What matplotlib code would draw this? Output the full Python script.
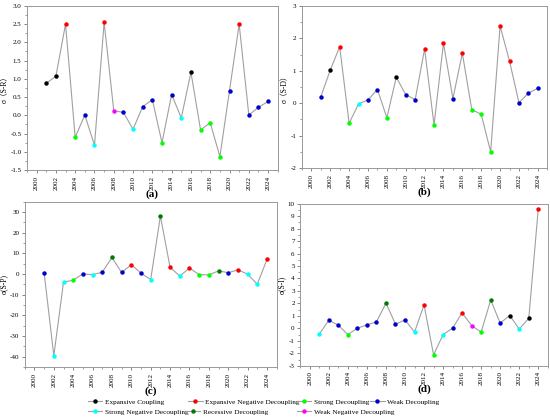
import numpy as np
import matplotlib
matplotlib.use("Agg")
import matplotlib.pyplot as plt
from matplotlib.lines import Line2D
from matplotlib.ticker import MultipleLocator, FormatStrFormatter

plt.rcParams['font.family'] = ['Liberation Serif', 'Noto Sans CJK SC', 'DejaVu Sans']
plt.rcParams['axes.unicode_minus'] = False

years = list(range(2001, 2025))

# decoupling states: EC, END, SD, WD, SND, RD, WND
state_names = {
    "EC": "Expansive Coupling",
    "END": "Expansive Negative Decoupling",
    "SD": "Strong Decoupling",
    "WD": "Weak Decoupling",
    "SND": "Strong Negative Decoupling",
    "RD": "Recessive Decoupling",
    "WND": "Weak Negative Decoupling",
}
state_colors = {
    "EC": "#000000",
    "END": "#ff0000",
    "SD": "#00ff00",
    "WD": "#0000cc",
    "SND": "#00ffff",
    "RD": "#007a00",
    "WND": "#ff00ff",
}

sr_values = [0.88, 1.07, 2.50, -0.60, 0.01, -0.82, 2.55, 0.13, 0.08, -0.38, 0.24, 0.43,
             -0.75, 0.57, -0.07, 1.18, -0.40, -0.20, -1.13, 0.68, 2.50, 0.01, 0.22, 0.38]
sr_states = ["EC", "EC", "END", "SD", "WD", "SND", "END", "WND", "WD", "SND", "WD", "WD",
             "SD", "WD", "SND", "EC", "SD", "SD", "SD", "WD", "END", "WD", "WD", "WD"]

sd_values = [0.20, 1.02, 1.74, -0.62, -0.02, 0.10, 0.42, -0.45, 0.80, 0.26, 0.11, 1.67,
             -0.67, 1.85, 0.14, 1.54, -0.20, -0.34, -1.50, 2.38, 1.30, 0.01, 0.31, 0.46]
sd_states = ["WD", "EC", "END", "SD", "SND", "WD", "WD", "SD", "EC", "WD", "WD", "END",
             "SD", "END", "WD", "END", "SD", "SD", "SD", "END", "END", "WD", "WD", "WD"]

sp_values = [0.5, -39.5, -4.0, -3.0, 0.0, -0.3, 0.8, 8.0, 0.7, 4.5, 0.4, -2.7,
             28.0, 3.2, -1.0, 2.8, -0.3, -0.5, 1.5, 0.6, 2.0, -0.1, -5.0, 7.0]
sp_states = ["WD", "SND", "SND", "SD", "WD", "SND", "WD", "RD", "WD", "END", "WD", "SND",
             "RD", "END", "SND", "END", "SD", "SD", "RD", "WD", "END", "SND", "SND", "END"]

si_values = [-0.45, 0.65, 0.25, -0.50, 0.02, 0.28, 0.52, 2.03, 0.33, 0.68, -0.30, 1.88,
             -2.12, -0.50, 0.02, 1.25, 0.22, -0.30, 2.27, 0.42, 1.03, -0.05, 0.80, 9.60]
si_states = ["SND", "WD", "WD", "SD", "WD", "WD", "WD", "RD", "WD", "WD", "SND", "END",
             "SD", "SND", "WD", "END", "WND", "SD", "RD", "WD", "EC", "SND", "EC", "END"]

panels = [
    ("(a)", "σ（S-R）", sr_values, sr_states, (-1.5, 3.0), 0.5, "%.1f",
     [0.049, 0.594, 0.456, 0.392]),
    ("(b)", "σ（S-D）", sd_values, sd_states, (-2, 3), 1, "%d",
     [0.549, 0.599, 0.446, 0.387]),
    ("(c)", "σ(S-P)", sp_values, sp_states, (-45, 35), 10, "%d",
     [0.045, 0.124, 0.458, 0.395]),
    ("(d)", "σ(S-I)", si_values, si_states, (-3, 10), 1, "%d",
     [0.546, 0.127, 0.450, 0.387]),
]

fig = plt.figure(figsize=(5.5, 4.19), dpi=100)

for label, ylab, vals, states, ylim, step, fmt, rect in panels:
    ax = fig.add_axes(rect)
    ax.plot(years, vals, color="#a0a0a0", lw=0.8, zorder=1)
    for x, v, s in zip(years, vals, states):
        ax.plot(x, v, "o", color=state_colors[s], ms=3.2, mew=0, zorder=2)
    ax.set_xlim(1999, 2025)
    ax.set_ylim(*ylim)
    ax.set_xticks(range(2000, 2025, 2))
    ax.xaxis.set_minor_locator(MultipleLocator(1))
    ax.yaxis.set_major_locator(MultipleLocator(step))
    ax.yaxis.set_minor_locator(MultipleLocator(step / 2))
    ax.yaxis.set_major_formatter(FormatStrFormatter(fmt))
    ax.tick_params(axis="x", labelrotation=90, labelsize=5, length=2.5, width=0.5,
                   color="#555555", pad=1.5)
    ax.tick_params(axis="y", labelsize=5, length=2.5, width=0.5, color="#555555", pad=1.5)
    ax.tick_params(which="minor", length=1.5, width=0.4, color="#555555")
    for sp in ax.spines.values():
        sp.set_color("#999999")
        sp.set_linewidth(0.7)
    ax.set_ylabel(ylab, fontsize=5.5, labelpad=1)
    bb = ax.get_position()
    fig.text(bb.x0 + bb.width / 2, bb.y0 - 0.057, label, ha="center", va="center",
             fontsize=8, fontweight="bold")

# legend entries placed as in the original (not a strict grid)
legend_pos = {
    "EC": (0.160, 0.041), "END": (0.342, 0.041), "SD": (0.540, 0.041), "WD": (0.673, 0.041),
    "SND": (0.160, 0.017), "RD": (0.338, 0.017), "WND": (0.540, 0.017),
}
for key, (lx, ly) in legend_pos.items():
    h = Line2D([0], [0], color="#a0a0a0", lw=0.8, marker="o", ms=3.2, mew=0,
               markerfacecolor=state_colors[key])
    lg = fig.legend([h], [state_names[key]], loc="center left", bbox_to_anchor=(lx, ly),
                    frameon=False, fontsize=5.2, handlelength=2.0, handletextpad=0.3,
                    borderpad=0, borderaxespad=0)

fig.savefig("out.png", dpi=100)
